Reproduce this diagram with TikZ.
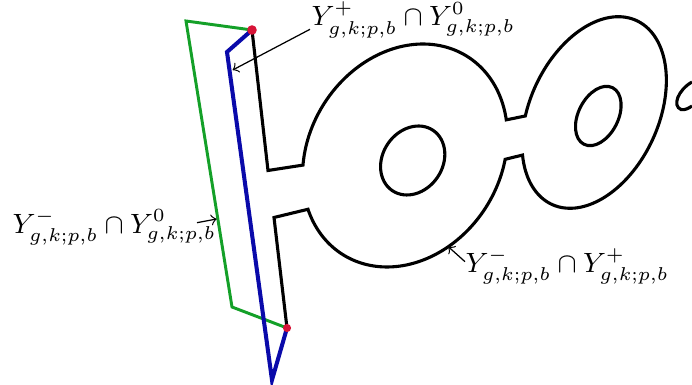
\documentclass[tikz,border=0pt]{standalone}
\definecolor{lgreen}{RGB}{20,160,40}
\definecolor{lblue}{RGB}{10,10,170}
\definecolor{ldot}{RGB}{215,20,55}
\begin{document}
\begin{tikzpicture}[x=0.32258pt,y=0.32258pt,
  outline/.style={line width=1pt},
  greenline/.style={lgreen, line width=0.95pt},
  blueline/.style={lblue, line width=1.3pt},
  lab/.style={inner sep=0pt, anchor=base west, font=\small},
  pointer/.style={->, line width=0.4pt}]
\useasboundingbox (0,0) rectangle (692,-385);
% key points
\coordinate (rt) at (252,-30);
\coordinate (rb) at (287,-328);
\coordinate (g1) at (186,-21);
\coordinate (g2) at (232,-307);
\coordinate (b1) at (227,-52);
\coordinate (b2) at (272,-380);
\coordinate (s1) at (268,-170.5);
\coordinate (s4) at (274,-217.5);
% green and blue polygons
\draw[greenline] (rt) -- (g1) -- (g2) -- (rb);
\draw[blueline] (rt) -- (b1) -- (b2) -- (rb);
% black outline
\draw[outline] (rt) -- (s1)
  -- plot[domain=122.2:-44.1,samples=90,variable=\t]
     ({405+117*cos(\t)*0.5314-96.1*sin(\t)*0.8471},{-155.5+117*cos(\t)*0.8471+96.1*sin(\t)*0.5314})
  -- plot[domain=108.4:-227.3,samples=140,variable=\t]
     ({594.2+101.2*cos(\t)*0.4179-64.4*sin(\t)*0.9085},{-112.5+101.2*cos(\t)*0.9085+64.4*sin(\t)*0.4179})
  -- plot[domain=-64.7:-213.9,samples=90,variable=\t]
     ({405+117*cos(\t)*0.5314-96.1*sin(\t)*0.8471},{-155.5+117*cos(\t)*0.8471+96.1*sin(\t)*0.5314})
  -- (s4) -- (rb);
% holes
\draw[outline,shift={(412.7,-160.5)},rotate=55.7] (0,0) ellipse[x radius=36.4,y radius=29.95];
\draw[outline,shift={(598.3,-116)},rotate=63.1] (0,0) ellipse[x radius=31.7,y radius=19.9];
% partial shape at right edge
\draw[outline] (692,-82) .. controls (678,-90) and (672,-106) .. (681,-109.5)
  .. controls (685,-110.5) and (689,-108) .. (692,-106);
% red dots
\fill[ldot] (rt) circle[radius=4.8];
\fill[ldot] (rb) circle[radius=4.1];
% labels
\node[lab] (lab1) at (311,-26) {$Y^{+}_{g,k;p,b}\cap Y^{0}_{g,k;p,b}$};
\node[lab] (lab2) at (12,-233.3) {$Y^{-}_{g,k;p,b}\cap Y^{0}_{g,k;p,b}$};
\node[lab] (lab3) at (465,-272.7) {$Y^{-}_{g,k;p,b}\cap Y^{+}_{g,k;p,b}$};
\coordinate (a1s) at (310,-29.3);
\coordinate (a1e) at (232.7,-70);
\coordinate (a2s) at (197,-222.7);
\coordinate (a2e) at (216.7,-219);
\coordinate (a3s) at (465,-261.7);
\coordinate (a3e) at (448.3,-246.7);
\draw[pointer] (a1s) -- (a1e);
\draw[pointer] (a2s) -- (a2e);
\draw[pointer] (a3s) -- (a3e);
\end{tikzpicture}
\end{document}
